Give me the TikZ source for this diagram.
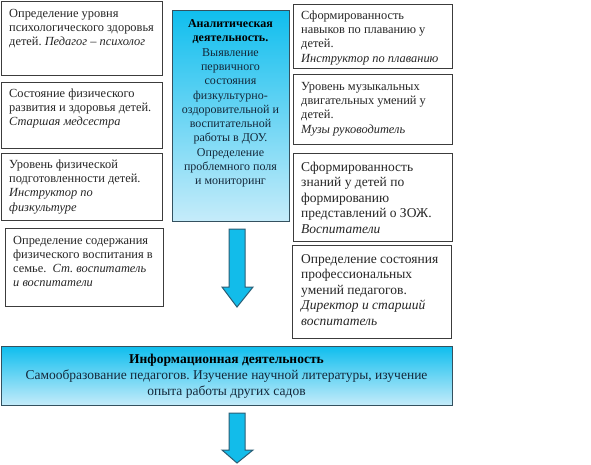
\documentclass[tikz,border=0pt]{standalone}
\usepackage{fontspec}
\setmainfont{Liberation Serif}
\frenchspacing
\definecolor{bordergray}{HTML}{3C3C3C}
\definecolor{blueborder}{HTML}{34515F}
\definecolor{cyantop}{HTML}{10BEEE}
\definecolor{cyanbot}{HTML}{C6ECFA}
\definecolor{arrowfill}{HTML}{12BCEA}
\definecolor{arrowline}{HTML}{2B5E75}
\definecolor{txtcol}{HTML}{262626}
\definecolor{bluetxt}{HTML}{14283A}
\tikzset{
  whitebox/.style={draw=bordergray, line width=1.2pt, fill=white, inner sep=0pt, anchor=north west},
  bluebox/.style={draw=blueborder, line width=1.3pt, top color=cyantop, bottom color=cyanbot, inner sep=0pt, anchor=north west},
  txt/.style={anchor=base west, inner sep=0pt, text=txtcol},
  ctxt/.style={anchor=base, inner sep=0pt, text=bluetxt},
  blockarrow/.style={fill=arrowfill, draw=arrowline, line width=1pt, line join=miter}
}
\newcommand{\tb}[2]{\parbox[t]{#1}{\raggedright #2}}
\begin{document}
\begin{tikzpicture}[x=1pt,y=-1pt]
\useasboundingbox (0,0) rectangle (591,464);
\fill[white] (0,0) rectangle (591,464);
% left boxes
\node[whitebox, minimum width=161pt, minimum height=74pt] (l1) at (1,0.6) {};
\node[whitebox, minimum width=161pt, minimum height=66pt] (l2) at (1,82) {};
\node[whitebox, minimum width=161pt, minimum height=67pt] (l3) at (1,153) {};
\node[whitebox, minimum width=158pt, minimum height=78pt] (l4) at (5,228) {};
% central box
\node[bluebox, minimum width=117pt, minimum height=211pt] (c) at (172,10) {};
% right boxes
\node[whitebox, minimum width=159pt, minimum height=64pt] (r1) at (293,4) {};
\node[whitebox, minimum width=159pt, minimum height=70pt] (r2) at (293,74) {};
\node[whitebox, minimum width=159pt, minimum height=88pt] (r3) at (293,153) {};
\node[whitebox, minimum width=159pt, minimum height=93pt] (r4) at (292,245) {};
% info box
\node[bluebox, minimum width=451pt, minimum height=59pt] (info) at (1,346) {};

% texts
\begin{scope}[every node/.append style={font=\fontsize{12.4}{14.2}\selectfont}]
\node[txt] (l1t) at (9,17) {\tb{152pt}{Определение уровня\\психологического здоровья\\детей. \textit{Педагог – психолог}}};
\node[txt] (l2t) at (9,97.5) {\tb{152pt}{Состояние физического\\развития и здоровья детей.\\\textit{Старшая медсестра}}};
\node[txt] (l3t) at (9,168.5) {\tb{152pt}{Уровень физической\\подготовленности детей.\\\textit{Инструктор по}\\\textit{физкультуре}}};
\node[txt] (l4t) at (13,244) {\tb{148pt}{Определение содержания\\физического воспитания в\\семье.\ \ \textit{Ст. воспитатель}\\\textit{и воспитатели}}};
\node[txt] (r1t) at (301,19.5) {\tb{150pt}{Сформированность\\навыков по плаванию у\\детей.\\\textit{Инструктор по плаванию}}};
\node[txt] (r2t) at (301,90.5) {\tb{150pt}{Уровень музыкальных\\двигательных умений у\\детей.\\\textit{Музы руководитель}}};
\end{scope}
\begin{scope}[every node/.append style={font=\fontsize{12}{14.3}\selectfont}]
\node[ctxt, align=center] (ct) at (230.5,27.5) {\parbox[t]{115pt}{\centering\textbf{\color{black}Аналитическая}\\\textbf{\color{black}деятельность.}\\Выявление\\первичного\\состояния\\физкультурно-\\оздоровительной и\\воспитательной\\работы в ДОУ.\\Определение\\проблемного поля\\и мониторинг}};
\end{scope}
\begin{scope}[every node/.append style={font=\fontsize{13.5}{15.6}\selectfont}]
\node[txt] (r3t) at (301,171) {\tb{150pt}{Сформированность\\знаний у детей по\\формированию\\представлений о ЗОЖ.\\\textit{Воспитатели}}};
\node[txt] (r4t) at (301,263) {\tb{150pt}{Определение состояния\\профессиональных\\умений педагогов.\\\textit{Директор и старший}\\\textit{воспитатель}}};
\end{scope}
\begin{scope}[every node/.append style={font=\fontsize{13.5}{16}\selectfont}]
\node[ctxt] (it) at (226.5,363) {\parbox[t]{445pt}{\centering\textbf{\color{black}Информационная деятельность}\\Самообразование педагогов. Изучение научной литературы, изучение\\опыта работы других садов}};
\end{scope}

% block arrows
\coordinate (a1) at (237,229);
\draw[blockarrow] ([xshift=-8pt]a1) -- ([xshift=8pt]a1) -- ++(0,58) -- ++(8,0) -- (237,307) -- (222,287) -- ([xshift=-8pt]a1|-0,287) -- cycle;
\coordinate (a2) at (237,413);
\draw[blockarrow] ([xshift=-8pt]a2) -- ([xshift=8pt]a2) -- ++(0,37) -- ++(8,0) -- (237,463) -- (222,450) -- ([xshift=-8pt]a2|-0,450) -- cycle;
\end{tikzpicture}
\end{document}
